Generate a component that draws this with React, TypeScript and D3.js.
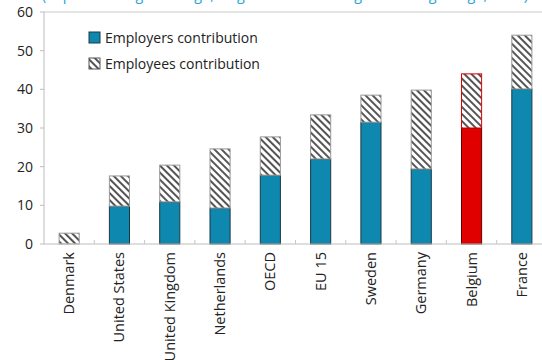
import React from "react";
import * as d3 from "d3";

const categories = ["Denmark", "United States", "United Kingdom", "Netherlands", "OECD", "EU 15", "Sweden", "Germany", "Belgium", "France"];
const employers = [0, 9.8, 10.9, 9.3, 17.8, 22.0, 31.5, 19.4, 30.0, 40.1];
const employees = [2.8, 7.8, 9.5, 15.3, 9.9, 11.4, 7.0, 20.4, 14.0, 13.9];
const yTicks = [0, 10, 20, 30, 40, 50, 60];
const highlight = "Belgium";
const legendLabels = ["Employers contribution", "Employees contribution"];
const subtitle = "(In percent of gross wage, single worker earning the average wage, 2013)";

const W = 542, H = 360;
const FONT = "'Open Sans', 'Noto Sans', sans-serif";

export default function App() {
  const x = d3.scaleBand<string>().domain(categories).range([44, 547]).paddingInner(0.6).paddingOuter(0.3);
  const y = d3.scaleLinear().domain([0, 60]).range([244, 12]);
  const step = x.step();
  const blue = "#0E88AF";
  const red = "#E00000";
  return (
    <svg width={W} height={H} style={{ position: "absolute", left: 0, top: 0, display: "block", background: "#fff" }}>
      <defs>
        <pattern id="hatch" patternUnits="userSpaceOnUse" width="5" height="5" patternTransform="rotate(-45)">
          <rect width="5" height="5" fill="#fff" />
          <rect x="0" y="0" width="2" height="5" fill="#555" />
        </pattern>
      </defs>
      <text x={42} y={0} fill="#2BA3D8" fontFamily={FONT} fontSize={14} textLength={486} lengthAdjust="spacingAndGlyphs">{subtitle}</text>
      {/* frame lines */}
      <line x1={44} x2={W} y1={y(60)} y2={y(60)} stroke="#C8C8C8" />
      <line x1={44} x2={44} y1={y(60)} y2={y(0)} stroke="#BDBDBD" />
      {yTicks.map((t) => (
        <g key={t}>
          <line x1={40} x2={44} y1={y(t)} y2={y(t)} stroke="#BDBDBD" />
          <text x={33} y={y(t)} dy="0.35em" textAnchor="end" fontFamily={FONT} fontSize={14} fill="#222">{t}</text>
        </g>
      ))}
      {categories.map((c, i) => {
        const bx = x(c)!;
        const bw = x.bandwidth();
        const isHi = c === highlight;
        const e1 = employers[i];
        const e2 = employees[i];
        return (
          <g key={c}>
            {e1 > 0 && (
              <rect x={bx} y={y(e1)} width={bw} height={y(0) - y(e1)} fill={isHi ? red : blue} stroke={isHi ? "#600" : "#1E3A44"} strokeWidth={1} />
            )}
            <rect x={bx} y={y(e1 + e2)} width={bw} height={y(e1) - y(e1 + e2)} fill="url(#hatch)" stroke={isHi ? red : "#999"} strokeWidth={1} />
          </g>
        );
      })}
      <line x1={44} x2={W} y1={y(0)} y2={y(0)} stroke="#BDBDBD" />
      {categories.map((c, i) => (
        <line key={"t" + c} x1={44 + (i + 1) * step} x2={44 + (i + 1) * step} y1={y(0) - 4} y2={y(0)} stroke="#C8C8C8" />
      ))}
      {categories.map((c) => {
        const cx = x(c)! + x.bandwidth() / 2;
        return (
          <text key={"l" + c} transform={`translate(${cx + 5},252) rotate(-90)`} textAnchor="end" fontFamily={FONT} fontSize={14.5} fill="#222">{c}</text>
        );
      })}
      {/* legend */}
      <rect x={89} y={32} width={11} height={11} fill={blue} stroke="#1E3A44" />
      <text x={105} y={38} dy="0.35em" fontFamily={FONT} fontSize={14} fill="#222">{legendLabels[0]}</text>
      <rect x={89} y={58} width={11} height={11} fill="url(#hatch)" stroke="#555" />
      <text x={105} y={64} dy="0.35em" fontFamily={FONT} fontSize={14} fill="#222">{legendLabels[1]}</text>
    </svg>
  );
}
